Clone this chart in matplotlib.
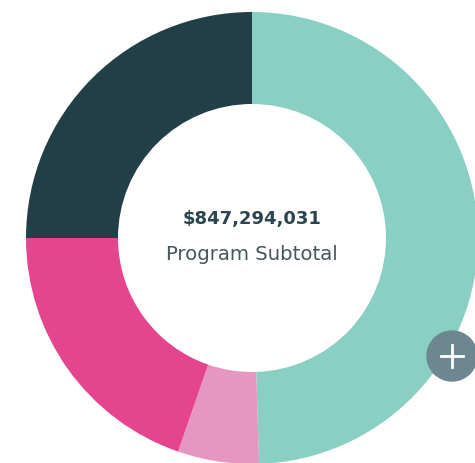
import matplotlib.pyplot as plt
from matplotlib.patches import Circle

# segments, clockwise from 12 o'clock
labels = ["Teal", "Light pink", "Magenta", "Dark"]
values = [49.5, 5.8, 19.7, 25.0]
colors = ["#89cfc3", "#e597c2", "#e5458f", "#223f48"]

total_text = "$847,294,031"
subtitle = "Program Subtotal"

W, H = 475, 464
fig = plt.figure(figsize=(W / 100, H / 100), dpi=100)
ax = fig.add_axes([0, 0, 1, 1])

cx, cy = 252, H - 239
r_out, r_in = 226, 134

ax.pie(values, colors=colors, startangle=90, counterclock=False,
       center=(cx, cy), radius=r_out, frame=True,
       wedgeprops=dict(width=r_out - r_in, linewidth=0))
ax.set_xlim(0, W)
ax.set_ylim(0, H)
ax.set_aspect("equal")
ax.axis("off")

ax.text(cx, H - 219, total_text, ha="center", va="center",
        fontsize=13, fontweight="bold", color="#2a454d", family="DejaVu Sans")
ax.text(cx, H - 255, subtitle, ha="center", va="center",
        fontsize=14.2, color="#46575c", family="DejaVu Sans")

# the little "+" button
ax.add_patch(Circle((452, H - 357), 25, color="#6c8790", zorder=5))
ax.plot([441, 463], [H - 357, H - 357], color="white", lw=2, zorder=6)
ax.plot([452, 452], [H - 346, H - 368], color="white", lw=2, zorder=6)

fig.savefig("out.png", dpi=100)
